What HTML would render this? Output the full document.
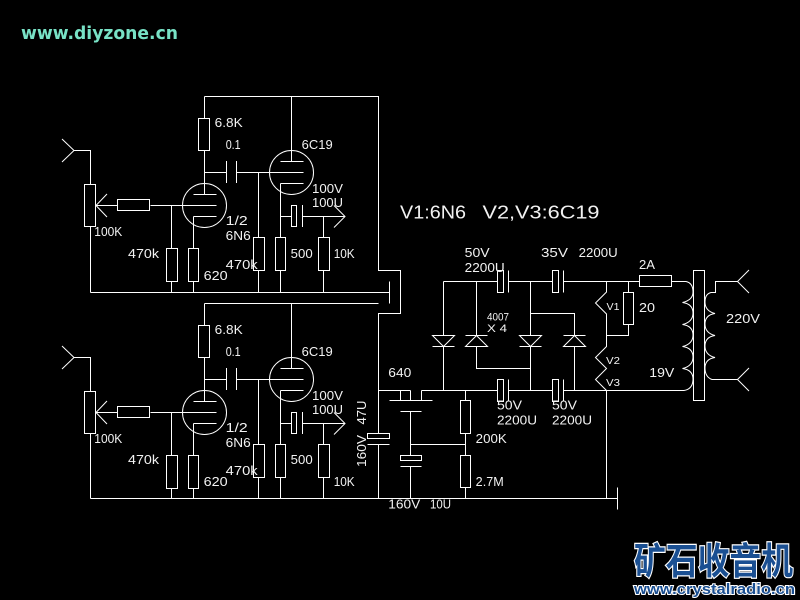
<!DOCTYPE html>
<html><head><meta charset="utf-8"><style>
html,body{margin:0;padding:0;background:#000;width:800px;height:600px;overflow:hidden}
svg{display:block}
.l{fill:none;stroke:#fff;stroke-width:1}
text{font-family:"Liberation Sans",sans-serif;fill:#f2f2f2;font-size:12.5px}
</style></head><body>
<svg width="800" height="600" viewBox="0 0 800 600" xmlns="http://www.w3.org/2000/svg">
<rect width="800" height="600" fill="#000"/>
<text x="21" y="39" textLength="157" lengthAdjust="spacingAndGlyphs" style="font-size:18px;font-weight:bold;font-family:'DejaVu Sans',sans-serif;fill:#78e2c6">www.diyzone.cn</text>

<!-- top amplifier -->
<g>
<path class="l" d="M204.5 96.5H378.5V270.5H400.5V313.5H378.5V433M378.5 444.5V498.5"/>
<path class="l" d="M90.5 292.5H389.5M389.5 281.5V303.5"/>
<path class="l" d="M62 139L74 150.5L62 162M74 150.5H90.5V184M90.5 226V292.5"/>
<rect class="l" x="84.5" y="184.5" width="11" height="42"/>
<path class="l" d="M107 194L96 205.5L107 217M96 205.5H117.5M150.5 205.5H216.5"/>
<rect class="l" x="117.5" y="199.5" width="32" height="11"/>
<circle class="l" cx="204.5" cy="205.5" r="22"/>
<path class="l" d="M193.5 194.5H216.5M193.5 216.5H216.5M204.5 96.5V118M204.5 150V194.5M193.5 216.5V248M193.5 281V292.5M171.5 205.5V248M171.5 281V292.5"/>
<rect class="l" x="198.5" y="118.5" width="11" height="32"/>
<rect class="l" x="166.5" y="248.5" width="11" height="33"/>
<rect class="l" x="188.5" y="248.5" width="10" height="33"/>
<path class="l" d="M204.5 172.5H226.5M226.5 161V183M236.5 161V183M236.5 172.5H303.5"/>
<circle class="l" cx="291.5" cy="172.5" r="22"/>
<path class="l" d="M280.5 161.5H303.5M280.5 183.5H303.5M291.5 96.5V161.5M280.5 183.5V237M280.5 270V292.5M258.5 172.5V237M258.5 270V292.5M323.5 216.5V237M323.5 270V292.5"/>
<rect class="l" x="253.5" y="237.5" width="11" height="33"/>
<rect class="l" x="275.5" y="237.5" width="10" height="33"/>
<rect class="l" x="318.5" y="237.5" width="11" height="33"/>
<path class="l" d="M280.5 216.5H291.5M302.5 205V227M302.5 216.5H345M334 205.5L345 216.5L334 227.5"/>
<rect class="l" x="291.5" y="205.5" width="5" height="21"/>
<text x="214.7" y="127" textLength="28" lengthAdjust="spacingAndGlyphs">6.8K</text>
<text x="225.7" y="149" textLength="15" lengthAdjust="spacingAndGlyphs">0.1</text>
<text x="301.7" y="149" textLength="31" lengthAdjust="spacingAndGlyphs">6C19</text>
<text x="312" y="193" textLength="31" lengthAdjust="spacingAndGlyphs">100V</text>
<text x="312" y="207" textLength="31" lengthAdjust="spacingAndGlyphs">100U</text>
<text x="225.7" y="225" textLength="22" lengthAdjust="spacingAndGlyphs">1/2</text>
<text x="225.7" y="240" textLength="25" lengthAdjust="spacingAndGlyphs">6N6</text>
<text x="94.3" y="236" textLength="28" lengthAdjust="spacingAndGlyphs">100K</text>
<text x="128" y="258" textLength="31" lengthAdjust="spacingAndGlyphs">470k</text>
<text x="203.7" y="280" textLength="24" lengthAdjust="spacingAndGlyphs">620</text>
<text x="225.7" y="269" textLength="32" lengthAdjust="spacingAndGlyphs">470k</text>
<text x="290.7" y="258" textLength="22" lengthAdjust="spacingAndGlyphs">500</text>
<text x="333.7" y="258" textLength="21" lengthAdjust="spacingAndGlyphs">10K</text>
</g>

<!-- bottom amplifier -->
<g transform="translate(0,207)">
<path class="l" d="M204.5 96.5H378.5"/>
<path class="l" d="M62 139L74 150.5L62 162M74 150.5H90.5V184M90.5 226V291.5"/>
<rect class="l" x="84.5" y="184.5" width="11" height="42"/>
<path class="l" d="M107 194L96 205.5L107 217M96 205.5H117.5M150.5 205.5H216.5"/>
<rect class="l" x="117.5" y="199.5" width="32" height="11"/>
<circle class="l" cx="204.5" cy="205.5" r="22"/>
<path class="l" d="M193.5 194.5H216.5M193.5 216.5H216.5M204.5 96.5V118M204.5 150V194.5M193.5 216.5V248M193.5 281V291.5M171.5 205.5V248M171.5 281V291.5"/>
<rect class="l" x="198.5" y="118.5" width="11" height="32"/>
<rect class="l" x="166.5" y="248.5" width="11" height="33"/>
<rect class="l" x="188.5" y="248.5" width="10" height="33"/>
<path class="l" d="M204.5 172.5H226.5M226.5 161V183M236.5 161V183M236.5 172.5H303.5"/>
<circle class="l" cx="291.5" cy="172.5" r="22"/>
<path class="l" d="M280.5 161.5H303.5M280.5 183.5H303.5M291.5 96.5V161.5M280.5 183.5V237M280.5 270V291.5M258.5 172.5V237M258.5 270V291.5M323.5 216.5V237M323.5 270V291.5"/>
<rect class="l" x="253.5" y="237.5" width="11" height="33"/>
<rect class="l" x="275.5" y="237.5" width="10" height="33"/>
<rect class="l" x="318.5" y="237.5" width="11" height="33"/>
<path class="l" d="M280.5 216.5H291.5M302.5 205V227M302.5 216.5H345M334 205.5L345 216.5L334 227.5"/>
<rect class="l" x="291.5" y="205.5" width="5" height="21"/>
<text x="214.7" y="127" textLength="28" lengthAdjust="spacingAndGlyphs">6.8K</text>
<text x="225.7" y="149" textLength="15" lengthAdjust="spacingAndGlyphs">0.1</text>
<text x="301.7" y="149" textLength="31" lengthAdjust="spacingAndGlyphs">6C19</text>
<text x="312" y="193" textLength="31" lengthAdjust="spacingAndGlyphs">100V</text>
<text x="312" y="207" textLength="31" lengthAdjust="spacingAndGlyphs">100U</text>
<text x="225.7" y="225" textLength="22" lengthAdjust="spacingAndGlyphs">1/2</text>
<text x="225.7" y="240" textLength="25" lengthAdjust="spacingAndGlyphs">6N6</text>
<text x="94.3" y="236" textLength="28" lengthAdjust="spacingAndGlyphs">100K</text>
<text x="128" y="257" textLength="31" lengthAdjust="spacingAndGlyphs">470k</text>
<text x="203.7" y="279" textLength="24" lengthAdjust="spacingAndGlyphs">620</text>
<text x="225.7" y="268" textLength="32" lengthAdjust="spacingAndGlyphs">470k</text>
<text x="290.7" y="257" textLength="22" lengthAdjust="spacingAndGlyphs">500</text>
<text x="333.7" y="279" textLength="21" lengthAdjust="spacingAndGlyphs">10K</text>
</g>

<!-- power supply -->
<path class="l" d="M90.5 498.5H617.5M617.5 487.5V509.5"/>
<rect class="l" x="367.5" y="433.5" width="22" height="5"/>
<path class="l" d="M367.5 444.5H389.5"/>
<path class="l" d="M378.5 390.5H410.5M400.5 390.5V400.5M410.5 390.5V400.5M421.5 390.5V400.5M421.5 390.5H497.5M389.5 400.5H432.5M400.5 411.5H421.5M410.5 411.5V455M400.5 466.5H421.5M410.5 466.5V498.5M410.5 444.5H465.5"/>
<rect class="l" x="400.5" y="455.5" width="21" height="5"/>
<path class="l" d="M465.5 390.5V400.5M465.5 433V455M465.5 487V498.5"/>
<rect class="l" x="460.5" y="400.5" width="10" height="33"/>
<rect class="l" x="460.5" y="455.5" width="10" height="32"/>

<path class="l" d="M443.5 281.5H497.5M443.5 281.5V335.5M443.5 346.5V390.5"/>
<path class="l" d="M432.5 335.5H454.5L443.5 346.5ZM432.5 346.5H454.5"/>
<path class="l" d="M476.5 281.5V335.5M465.5 335.5H487.5M476.5 335.5L465.5 346.5H487.5ZM476.5 346.5V368.5H530.5"/>
<path class="l" d="M530.5 281.5V335.5M519.5 335.5H541.5L530.5 346.5ZM519.5 346.5H541.5M530.5 346.5V390.5"/>
<path class="l" d="M530.5 313.5H574.5V335.5M563.5 335.5H585.5M574.5 335.5L563.5 346.5H585.5ZM574.5 346.5V390.5"/>

<rect class="l" x="497.5" y="270.5" width="6" height="22"/>
<path class="l" d="M508.5 270.5V292.5M508.5 281.5H552.5"/>
<rect class="l" x="552.5" y="270.5" width="6" height="22"/>
<path class="l" d="M563.5 270.5V292.5M563.5 281.5H639.5"/>
<rect class="l" x="497.5" y="379.5" width="6" height="22"/>
<path class="l" d="M508.5 379.5V401.5M508.5 390.5H552.5"/>
<rect class="l" x="552.5" y="379.5" width="6" height="22"/>
<path class="l" d="M563.5 379.5V401.5M563.5 390.5H684"/>

<path class="l" d="M606.5 281.5V292L595.5 303L606.5 314V346.5L595.5 357.5L606.5 368.5L595.5 379.5L606.5 390.5V498.5"/>
<path class="l" d="M606.5 335.5H628.5V325M628.5 281.5V292"/>
<rect class="l" x="623.5" y="292.5" width="10" height="32"/>
<rect class="l" x="639.5" y="275.5" width="32" height="11"/>
<rect class="l" x="693.5" y="270.5" width="11" height="130"/>
<path class="l" d="M671.5 281.5H686Q693 283 693 292Q693 300 682.5 302.5Q693 304 693 313Q693 322 682.5 324.5Q693 326 693 335Q693 344 682.5 346.5Q693 348 693 357Q693 366 682.5 368.5Q693 370 693 379Q693 389 684 390.5"/>
<path class="l" d="M737.5 281.5H715.5V292.5H711Q705 294 705 302Q705 311 715 313.5Q705 315 705 324Q705 333 715 335.5Q705 337 705 346Q705 355 715 357.5Q705 359 705 368Q705 377 712 379.5H737.5"/>
<path class="l" d="M749 270L737.5 281.5L749 293M749 368L737.5 379.5L749 391"/>

<text x="400" y="218.5" style="font-size:18px" textLength="66" lengthAdjust="spacingAndGlyphs">V1:6N6</text>
<text x="482.5" y="218.5" style="font-size:18px" textLength="117" lengthAdjust="spacingAndGlyphs">V2,V3:6C19</text>
<text x="464.7" y="257" textLength="25" lengthAdjust="spacingAndGlyphs">50V</text>
<text x="464.7" y="272" textLength="40" lengthAdjust="spacingAndGlyphs">2200U</text>
<text x="541" y="257" textLength="27" lengthAdjust="spacingAndGlyphs">35V</text>
<text x="578.7" y="257" textLength="39" lengthAdjust="spacingAndGlyphs">2200U</text>
<text x="487" y="320.5" style="font-size:11px" textLength="22" lengthAdjust="spacingAndGlyphs">4007</text>
<text x="487" y="332" style="font-size:11px" textLength="20" lengthAdjust="spacingAndGlyphs">X 4</text>
<text x="497" y="409.5" textLength="25" lengthAdjust="spacingAndGlyphs">50V</text>
<text x="497" y="424.5" textLength="40" lengthAdjust="spacingAndGlyphs">2200U</text>
<text x="552" y="409.5" textLength="25" lengthAdjust="spacingAndGlyphs">50V</text>
<text x="552" y="424.5" textLength="40" lengthAdjust="spacingAndGlyphs">2200U</text>
<text x="388.3" y="377" textLength="23" lengthAdjust="spacingAndGlyphs">640</text>
<text x="475.7" y="443" textLength="31" lengthAdjust="spacingAndGlyphs">200K</text>
<text x="475.7" y="486" textLength="28" lengthAdjust="spacingAndGlyphs">2.7M</text>
<text x="388.3" y="508.5" textLength="32" lengthAdjust="spacingAndGlyphs">160V</text>
<text x="430" y="508.5" textLength="21" lengthAdjust="spacingAndGlyphs">10U</text>
<text transform="translate(366,467) rotate(-90)" textLength="32" lengthAdjust="spacingAndGlyphs">160V</text>
<text transform="translate(366,424.5) rotate(-90)" textLength="24" lengthAdjust="spacingAndGlyphs">47U</text>
<text x="606.5" y="310" style="font-size:10px" textLength="13" lengthAdjust="spacingAndGlyphs">V1</text>
<text x="606" y="364" style="font-size:10px" textLength="14" lengthAdjust="spacingAndGlyphs">V2</text>
<text x="606" y="386" style="font-size:10px" textLength="14" lengthAdjust="spacingAndGlyphs">V3</text>
<text x="639" y="269" textLength="16" lengthAdjust="spacingAndGlyphs">2A</text>
<text x="639" y="312" textLength="16" lengthAdjust="spacingAndGlyphs">20</text>
<text x="649.3" y="377" textLength="25" lengthAdjust="spacingAndGlyphs">19V</text>
<text x="726" y="323" textLength="34" lengthAdjust="spacingAndGlyphs">220V</text>

<!-- logo -->
<text x="634" y="574" textLength="159" lengthAdjust="spacingAndGlyphs" style="font-family:'Liberation Sans','Noto Sans CJK SC',sans-serif;font-size:37px;font-weight:bold;fill:#1a4f92;stroke:#fff;stroke-width:2.4px;paint-order:stroke">矿石收音机</text>
<text x="634" y="594" textLength="161" lengthAdjust="spacingAndGlyphs" style="font-size:15px;font-weight:bold;fill:#1a4f92;stroke:#fff;stroke-width:2px;paint-order:stroke">www.crystalradio.cn</text>
</svg>
</body></html>
